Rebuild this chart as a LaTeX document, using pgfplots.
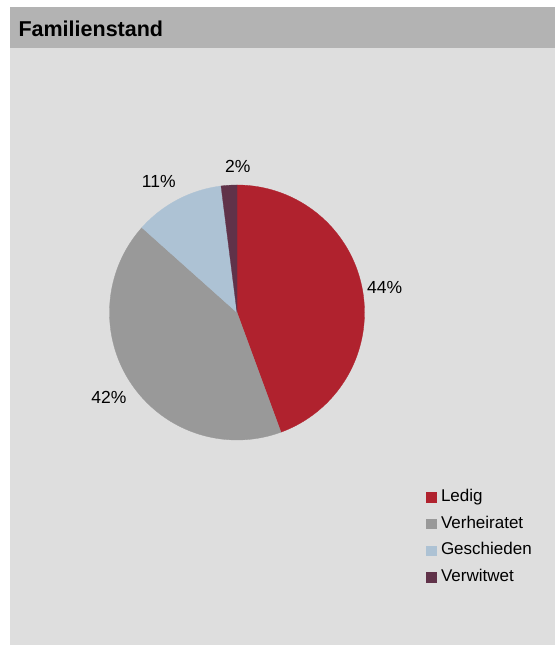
\documentclass[border=0pt]{standalone}
\usepackage{pgfplots}
\pgfplotsset{compat=1.18}
\usepackage{pgfplotstable}
\usepackage{fontspec}
\setmainfont{Liberation Sans}

\definecolor{cLedig}{HTML}{B0222E}
\definecolor{cVerh}{HTML}{999999}
\definecolor{cGesch}{HTML}{ADC2D4}
\definecolor{cVerw}{HTML}{603249}
\definecolor{panel}{HTML}{DEDEDE}
\definecolor{titlebar}{HTML}{B3B3B3}

% Familienstand, Anteile in Prozent
\pgfplotstableread{
label value
Ledig 44.4
Verheiratet 42.2
Geschieden 11.4
Verwitwet 2.0
}\piedata

\newcommand\getval[2]{\pgfplotstablegetelem{#1}{value}\of\piedata\global\let#2\pgfplotsretval}
\getval{0}\vA
\getval{1}\vB
\getval{2}\vC
\getval{3}\vD
\pgfmathsetmacro\aZ{90}
\pgfmathsetmacro\aA{90-3.6*\vA}
\pgfmathsetmacro\aB{\aA-3.6*\vB}
\pgfmathsetmacro\aC{\aB-3.6*\vC}
\pgfmathsetmacro\aD{\aC-3.6*\vD}
\pgfmathtruncatemacro\pA{round(\vA)}
\pgfmathtruncatemacro\pB{round(\vB)}
\pgfmathtruncatemacro\pC{round(\vC)}
\pgfmathtruncatemacro\pD{round(\vD)}

\def\cx{237}
\def\cy{332.5}
\def\rr{127.5}

\begin{document}
\begin{tikzpicture}
\begin{axis}[
  width=555pt, height=645pt, scale only axis,
  xmin=0, xmax=555, ymin=0, ymax=645,
  hide axis, clip=false,
  legend style={at={(axis cs:426,156.2)}, anchor=north west, draw=none, fill=none,
    font=\fontsize{17}{20}\selectfont, inner sep=0pt, row sep=10.1pt,
    nodes={inner sep=0pt, text height=12.5pt, text depth=4pt},
    cells={anchor=west},
    /tikz/every odd column/.append style={column sep=5pt}},
  legend cell align=left,
  legend image code/.code={\fill[#1] (0pt,-4.75pt) rectangle (9.5pt,4.75pt);},
]
\path (axis cs:0,0) rectangle (axis cs:555,645);
\fill[panel] (axis cs:10,0) rectangle (axis cs:555,638);
\fill[titlebar] (axis cs:10,597) rectangle (axis cs:555,638);
\node[anchor=base west, font=\fontsize{21.5}{24}\selectfont\bfseries] at (axis cs:15,608.3) {Familienstand};

\addplot[draw=cLedig, line width=0.3pt, fill=cLedig, domain=\aA:\aZ, samples=120, variable=\t]
  ({\cx+\rr*cos(\t)},{\cy+\rr*sin(\t)}) -- (axis cs:\cx,\cy) -- cycle;
\addlegendentry{Ledig}
\addplot[draw=cVerh, line width=0.3pt, fill=cVerh, domain=\aB:\aA, samples=120, variable=\t]
  ({\cx+\rr*cos(\t)},{\cy+\rr*sin(\t)}) -- (axis cs:\cx,\cy) -- cycle;
\addlegendentry{Verheiratet}
\addplot[draw=cGesch, line width=0.3pt, fill=cGesch, domain=\aC:\aB, samples=40, variable=\t]
  ({\cx+\rr*cos(\t)},{\cy+\rr*sin(\t)}) -- (axis cs:\cx,\cy) -- cycle;
\addlegendentry{Geschieden}
\addplot[draw=cVerw, line width=0.3pt, fill=cVerw, domain=\aD:\aC, samples=10, variable=\t]
  ({\cx+\rr*cos(\t)},{\cy+\rr*sin(\t)}) -- (axis cs:\cx,\cy) -- cycle;
\addlegendentry{Verwitwet}

\node[anchor=base, font=\fontsize{17.5}{20}\selectfont] at (axis cs:384.7,351) {\pA\%};
\node[anchor=base, font=\fontsize{17.5}{20}\selectfont] at (axis cs:109,241) {\pB\%};
\node[anchor=base, font=\fontsize{17.5}{20}\selectfont] at (axis cs:158.8,457) {\pC\%};
\node[anchor=base, font=\fontsize{17.5}{20}\selectfont] at (axis cs:237.7,472) {\pD\%};
\end{axis}
\end{tikzpicture}
\end{document}
